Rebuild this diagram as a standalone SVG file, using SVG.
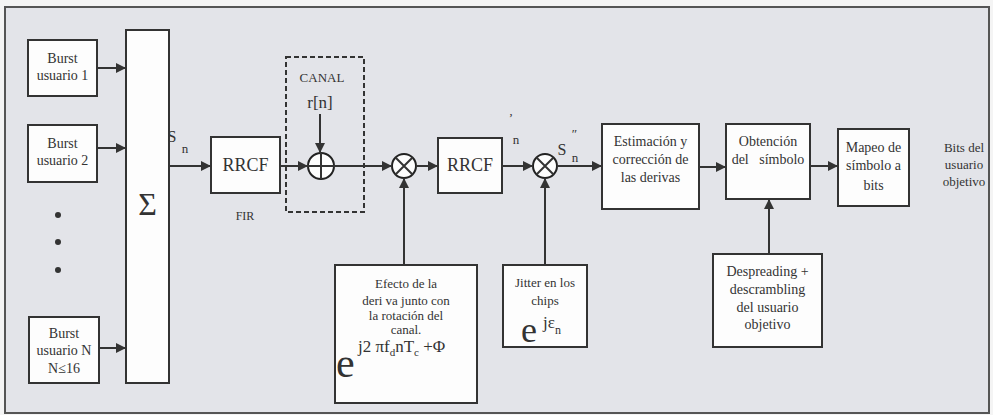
<svg xmlns="http://www.w3.org/2000/svg" width="993" height="415" viewBox="0 0 993 415">
<style>
.bg{fill:#e3e4e9}
.frame{fill:none;stroke:#555;stroke-width:2}
.box{fill:#fdfdfd;stroke:#333;stroke-width:2}
.t{font-family:'Liberation Serif',Tinos,'DejaVu Serif',serif;fill:#333;text-anchor:middle;font-size:14px}
.s{text-anchor:start}
.big{font-size:18px}
.ln{stroke:#333;stroke-width:2;fill:none}
.dash{fill:none;stroke:#333;stroke-width:2;stroke-dasharray:5,3}
.op{fill:#fdfdfd;stroke:#222;stroke-width:2}
</style>
<defs>
<marker id="ah" viewBox="0 0 10 10" refX="10" refY="5" markerWidth="6" markerHeight="5" orient="auto" markerUnits="strokeWidth">
<path d="M0,0 L10,5 L0,10 z" fill="#333"/>
</marker>
</defs>
<rect x="0" y="0" width="993" height="415" fill="#f4f4f4"/>
<rect class="bg" x="5" y="7" width="984" height="406"/>
<rect class="frame" x="5" y="7" width="984" height="406"/>

<g id="burst1"><rect class="box" x="28" y="40" width="69" height="56"/>
<text class="t" x="62.5" y="63">Burst</text><text class="t" x="62.5" y="80">usuario 1</text></g>
<g id="burst2"><rect class="box" x="28" y="125" width="69" height="57"/>
<text class="t" x="62.5" y="148">Burst</text><text class="t" x="62.5" y="165">usuario 2</text></g>
<g id="dots"><circle cx="58" cy="215" r="3" fill="#333"/><circle cx="58" cy="242" r="3" fill="#333"/><circle cx="58" cy="270" r="3" fill="#333"/></g>
<g id="burstN"><rect class="box" x="29" y="317" width="70" height="66"/>
<text class="t" x="64" y="338">Burst</text><text class="t" x="64" y="355">usuario N</text><text class="t" x="64" y="373">N≤16</text></g>
<g id="sum"><rect class="box" x="126" y="30" width="43" height="353"/>
<text class="t" x="147.5" y="215" style="font-size:32px">Σ</text></g>
<g id="sn"><text class="t" x="172" y="142" style="font-size:16px">S</text><text class="t" x="185" y="153" style="font-size:13px">n</text></g>
<g id="rrcf1"><rect class="box" x="211" y="137" width="69" height="56"/>
<text class="t big" x="245.5" y="171">RRCF</text><text class="t" x="245" y="220" style="font-size:12px">FIR</text></g>
<g id="canal"><rect class="dash" x="286" y="57" width="78" height="155"/>
<text class="t" x="322" y="82" style="font-size:13px">CANAL</text>
<text class="t" x="320" y="108" style="font-size:17px">r[n]</text>
<circle class="op" cx="321" cy="166" r="13"/><path class="ln" d="M308,166 H334 M321,153 V179"/></g>
<g id="mult1"><circle class="op" cx="404" cy="166" r="12"/><path class="ln" d="M395.5,157.5 L412.5,174.5 M412.5,157.5 L395.5,174.5"/></g>
<g id="rrcf2"><rect class="box" x="438" y="138" width="64" height="55"/>
<text class="t big" x="470" y="171">RRCF</text>
<text class="t" x="511" y="122" style="font-size:13px">ʼ</text><text class="t" x="516" y="144" style="font-size:13px">n</text></g>
<g id="mult2"><circle class="op" cx="545" cy="166" r="12"/><path class="ln" d="M536.5,157.5 L553.5,174.5 M553.5,157.5 L536.5,174.5"/>
<text class="t" x="562" y="155" style="font-size:16px">S</text><text class="t" x="574" y="138" style="font-size:13px">ʺ</text><text class="t" x="575" y="162" style="font-size:13px">n</text></g>
<g id="efecto"><rect class="box" x="335" y="265" width="142" height="138"/>
<text class="t" x="406" y="288" style="font-size:13px">Efecto de la</text>
<text class="t" x="406" y="305" style="font-size:13px">deri va junto con</text>
<text class="t" x="406" y="320" style="font-size:13px">la rotación del</text>
<text class="t" x="406" y="334" style="font-size:13px">canal.</text>
<text class="t s" x="336" y="377" style="font-size:42px">e</text>
<text class="t s" x="358" y="352" style="font-size:17px">j2 πf<tspan dy="4" style="font-size:11px">d</tspan><tspan dy="-4">nT</tspan><tspan dy="4" style="font-size:11px">c</tspan><tspan dy="-4"> +Φ</tspan></text></g>
<g id="jitter"><rect class="box" x="503" y="265" width="84" height="82"/>
<text class="t" x="545" y="287" style="font-size:13px">Jitter en los</text>
<text class="t" x="545" y="305" style="font-size:13px">chips</text>
<text class="t s" x="521" y="342" style="font-size:36px">e</text>
<text class="t s" x="543" y="328" style="font-size:17px">jε<tspan dy="6" style="font-size:12px">n</tspan></text></g>
<g id="estimacion"><rect class="box" x="602" y="124" width="97" height="85"/>
<text class="t" x="650.5" y="146">Estimación y</text><text class="t" x="650.5" y="164">corrección de</text><text class="t" x="650.5" y="182">las derivas</text></g>
<g id="obtencion"><rect class="box" x="726" y="124" width="84" height="75"/>
<text class="t" x="768" y="146">Obtención</text><text class="t" x="768" y="164" style="white-space:pre">del   símbolo</text></g>
<g id="mapeo"><rect class="box" x="838" y="129" width="71" height="77"/>
<text class="t" x="873.5" y="152">Mapeo de</text><text class="t" x="873.5" y="170">símbolo a</text><text class="t" x="873.5" y="190">bits</text></g>
<g id="bits"><text class="t" x="964" y="152" style="font-size:13px">Bits del</text><text class="t" x="964" y="169" style="font-size:13px">usuario</text><text class="t" x="964" y="186" style="font-size:13px">objetivo</text></g>
<g id="despreading"><rect class="box" x="713" y="254" width="109" height="93"/>
<text class="t" x="767.5" y="276">Despreading +</text><text class="t" x="767.5" y="294">descrambling</text><text class="t" x="767.5" y="312">del usuario</text><text class="t" x="767.5" y="329">objetivo</text></g>

<g id="connectors">
<path class="ln" marker-end="url(#ah)" d="M97,68 H126"/>
<path class="ln" marker-end="url(#ah)" d="M97,148 H126"/>
<path class="ln" marker-end="url(#ah)" d="M99,348 H126"/>
<path class="ln" marker-end="url(#ah)" d="M169,166 H211"/>
<path class="ln" marker-end="url(#ah)" d="M280,166 H308"/>
<path class="ln" marker-end="url(#ah)" d="M320,114 V153"/>
<path class="ln" marker-end="url(#ah)" d="M334,166 H392"/>
<path class="ln" marker-end="url(#ah)" d="M416,166 H438"/>
<path class="ln" marker-end="url(#ah)" d="M502,166 H533"/>
<path class="ln" marker-end="url(#ah)" d="M557,166 H602"/>
<path class="ln" marker-end="url(#ah)" d="M699,167 H726"/>
<path class="ln" marker-end="url(#ah)" d="M810,166 H838"/>
<path class="ln" marker-end="url(#ah)" d="M404,265 V178"/>
<path class="ln" marker-end="url(#ah)" d="M545,265 V178"/>
<path class="ln" marker-end="url(#ah)" d="M769,254 V199"/>
</g>
</svg>
